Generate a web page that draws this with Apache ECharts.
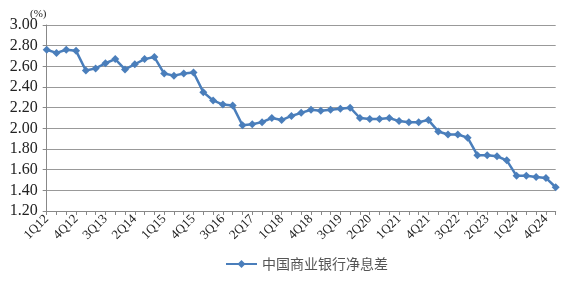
<!DOCTYPE html>
<html><head><meta charset="utf-8">
<script src="https://cdn.jsdelivr.net/npm/echarts@6/dist/echarts.min.js"></script>
<style>html,body{margin:0;padding:0;background:#fff}#c{width:575px;height:283px}</style>
</head><body><div id="c"></div>
<script>
var categories = [
 '1Q12','2Q12','3Q12','4Q12','1Q13','2Q13','3Q13','4Q13','1Q14','2Q14','3Q14','4Q14',
 '1Q15','2Q15','3Q15','4Q15','1Q16','2Q16','3Q16','4Q16','1Q17','2Q17','3Q17','4Q17',
 '1Q18','2Q18','3Q18','4Q18','1Q19','2Q19','3Q19','4Q19','1Q20','2Q20','3Q20','4Q20',
 '1Q21','2Q21','3Q21','4Q21','1Q22','2Q22','3Q22','4Q22','1Q23','2Q23','3Q23','4Q23',
 '1Q24','2Q24','3Q24','4Q24','1Q25'
];
var nimValues = [
 2.76,2.73,2.76,2.75, 2.56,2.58,2.63,2.67, 2.57,2.62,2.67,2.69,
 2.53,2.51,2.53,2.54, 2.35,2.27,2.23,2.22, 2.03,2.04,2.06,2.10,
 2.08,2.12,2.15,2.18, 2.17,2.18,2.19,2.20, 2.10,2.09,2.09,2.10,
 2.07,2.06,2.06,2.08, 1.97,1.94,1.94,1.91, 1.74,1.74,1.73,1.69,
 1.54,1.54,1.53,1.52, 1.43
];
var seriesName = '中国商业银行净息差';
var yMin = 1.2, yMax = 3.0, yStep = 0.2;

var chart = echarts.init(document.getElementById('c'));
var serif = '"Liberation Serif","Times New Roman",serif';
chart.setOption({
  animation: false,
  grid: {left: 46.7, right: 19.3, top: 25, bottom: 72},
  graphic: [{type:'text', left: 30, top: 9, style:{text:'(%)', font:'11px ' + serif, fill:'#222'}}],
  legend: {
    bottom: 7, left: 220, itemWidth: 31, itemHeight: 10, itemGap: 6,
    data: [seriesName],
    textStyle: {fontFamily: '"Noto Sans CJK SC"', fontSize: 14, color: '#555'}
  },
  xAxis: {
    type: 'category', data: categories, boundaryGap: false,
    axisLine: {lineStyle: {color: '#888', width: 1}},
    axisTick: {show: true, interval: 0, length: 4, lineStyle: {color: '#888'}},
    axisLabel: {interval: 2, rotate: 45, fontFamily: serif, fontSize: 13, color: '#222', margin: 6}
  },
  yAxis: {
    type: 'value', min: yMin, max: yMax, interval: yStep,
    axisLine: {show: true, lineStyle: {color: '#888', width: 1}},
    axisTick: {show: true, length: 4, lineStyle: {color: '#888'}},
    splitLine: {lineStyle: {color: '#999', width: 1}},
    axisLabel: {fontFamily: serif, fontSize: 16, color: '#222', margin: 9,
      formatter: function(v){return v.toFixed(2);}}
  },
  series: [{
    name: seriesName, type: 'line', data: nimValues,
    symbol: 'diamond', symbolSize: 8, showAllSymbol: true,
    lineStyle: {color: '#4A7EBB', width: 2.5},
    itemStyle: {color: '#4A7EBB'}
  }]
});
</script></body></html>
